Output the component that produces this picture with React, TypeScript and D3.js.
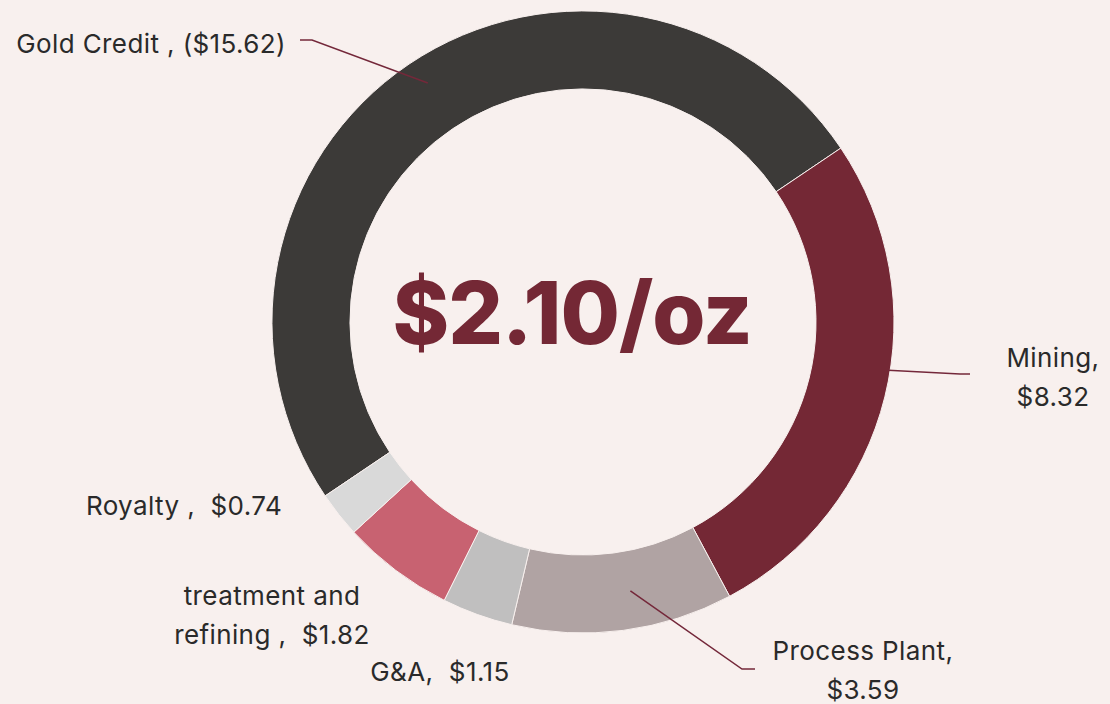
import React from "react";
import * as d3 from "d3";

const categories = ["Gold Credit", "Mining", "Process Plant", "G&A", "treatment and refining", "Royalty"];
const values = [15.62, 8.32, 3.59, 1.15, 1.82, 0.74];
const colors = ["#3c3a38", "#742835", "#b0a3a3", "#c0bfbf", "#c86271", "#d9d9d9"];
const labelLines = [
  ["Gold Credit , ($15.62)"],
  ["Mining,", "$8.32"],
  ["Process Plant,", "$3.59"],
  ["G&A,  $1.15"],
  ["treatment and", "refining ,  $1.82"],
  ["Royalty ,  $0.74"],
];
const centerLabel = "$2.10/oz";

const W = 1110;
const H = 704;
const BG = "#f8f0ee";
const LEADER = "#74283a";
const TEXT = "#2a2a2a";

// label layout (text anchor points) and leader elbows
const labelPos: { x: number; y: number; anchor: string }[] = [
  { x: 286, y: 53, anchor: "end" },
  { x: 1053, y: 367, anchor: "middle" },
  { x: 863, y: 660, anchor: "middle" },
  { x: 440, y: 681, anchor: "middle" },
  { x: 272, y: 605, anchor: "middle" },
  { x: 184, y: 515, anchor: "middle" },
];
const leaders: ([number, number][] | null)[] = [
  [[300, 40], [312, 40]],
  [[970, 374], [960, 374]],
  [[755, 669], [742, 669]],
  null,
  null,
  null,
];

export default function App() {
  const cx = 583;
  const cy = 322;
  const R = 311;
  const r = 233;
  const start = (236 * Math.PI) / 180;
  const pie = d3
    .pie<number>()
    .sort(null)
    .value((d) => d)
    .startAngle(start)
    .endAngle(start + 2 * Math.PI);
  const arcs = pie(values);
  const arc = d3.arc<d3.PieArcDatum<number>>().innerRadius(r).outerRadius(R);

  return (
    <svg
      width={W}
      height={H}
      style={{ position: "absolute", left: 0, top: 0, fontFamily: "Inter, 'Noto Sans', sans-serif" }}
    >
      <rect x={0} y={0} width={W} height={H} fill={BG} />
      <g transform={`translate(${cx},${cy})`}>
        {arcs.map((a, i) => (
          <path key={i} d={arc(a) || ""} fill={colors[i]} stroke={BG} strokeWidth={1} />
        ))}
      </g>
      {arcs.map((a, i) => {
        const el = leaders[i];
        if (!el) return null;
        let rad = (r + R) / 2;
        let angle = (a.startAngle + a.endAngle) / 2;
        if (i === 0) { angle = (-33 * Math.PI) / 180 + 2 * Math.PI; rad = 285; }
        if (i === 1) { angle = (99 * Math.PI) / 180; rad = 309; }
        if (i === 2) { angle = (170 * Math.PI) / 180; rad = 273; }
        const px = cx + rad * Math.sin(angle);
        const py = cy - rad * Math.cos(angle);
        const pts = [...el, [px, py]];
        return (
          <path
            key={"l" + i}
            d={d3.line()(pts as [number, number][]) || ""}
            fill="none"
            stroke={LEADER}
            strokeWidth={1.5}
          />
        );
      })}
      {labelLines.map((lines, i) => (
        <text
          key={"t" + i}
          x={labelPos[i].x}
          y={labelPos[i].y}
          textAnchor={labelPos[i].anchor}
          fontSize={26}
          letterSpacing={0.4}
          fill={TEXT}
          style={{ whiteSpace: "pre" }}
        >
          {lines.map((ln, j) => (
            <tspan key={j} x={labelPos[i].x} dy={j === 0 ? 0 : 39}>
              {ln}
            </tspan>
          ))}
        </text>
      ))}
      <text
        x={572}
        y={344}
        textAnchor="middle"
        fontSize={86}
        fontWeight={800}
        fill="#742835"
        letterSpacing={-1}
      >
        {centerLabel}
      </text>
    </svg>
  );
}
